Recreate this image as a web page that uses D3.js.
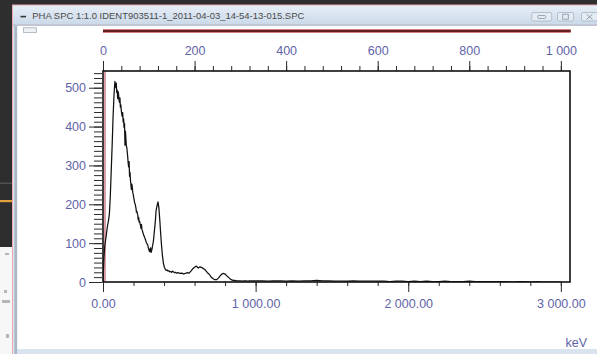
<!DOCTYPE html>
<html>
<head>
<meta charset="utf-8">
<script src="https://cdn.jsdelivr.net/npm/d3@7"></script>
<style>
  html, body { margin: 0; padding: 0; background: #2e2e2e; overflow: hidden; }
  svg { display: block; }
</style>
</head>
<body>
<svg id="chart" width="597" height="354"></svg>
<script>
// Pulse-height spectrum: energy (keV) and counts per bin
const energyKeV = [
  0, 6, 12, 18, 24, 30, 36, 42, 48, 54, 60, 66, 72,
  78, 81, 84, 87, 90, 93, 96, 99, 102, 105,
  108, 111, 114, 117, 120, 123, 126, 129, 132, 135,
  138, 141, 144, 147, 150, 153, 156, 159, 162, 165,
  168, 171, 174, 177, 180, 183, 186, 189, 192, 195,
  198, 201, 204, 207, 210, 213, 216, 219, 222, 225,
  228, 231, 234, 237, 240, 243, 246, 249, 252, 255,
  258, 261, 264, 267, 270, 273, 276, 279, 282, 285,
  288, 291, 294, 297, 300, 303, 306, 309, 312, 315,
  318, 321, 324,
  330, 336, 342, 348, 354, 360, 366, 372, 378, 384, 390, 396, 402, 408, 414, 420, 426, 432, 438, 444,
  450, 456, 462, 468, 474, 480,
  492, 504, 516, 528, 540, 552, 564, 576, 588, 600, 612, 624, 636, 648, 660, 672, 684, 696, 708,
  720, 732, 744, 756, 768, 780, 792, 804, 816, 828, 840, 852, 864, 876, 888, 900, 912, 924, 936, 948,
  960, 1000, 1040, 1080, 1120, 1160, 1200, 1240, 1280, 1320, 1360, 1400, 1440, 1480, 1520, 1560, 1600, 1640, 1680, 1720,
  1760, 1800, 1840, 1880, 1920, 1960, 2000, 2040, 2080, 2120, 2160, 2200, 2240, 2280, 2320, 2360, 2400, 2440, 2480, 2520,
  2560, 2600, 2640, 2680, 2720, 2760, 2800, 2840, 2880, 2920, 2960, 3000
];
const counts = [
  0, 62, 94, 110, 128, 146, 158, 176, 222, 288, 352, 425, 480,
  516, 508, 500, 512, 488, 494, 472, 490, 484, 468,
  462, 474, 450, 456, 441, 432, 426, 436, 412, 420,
  398, 408, 352, 388, 370, 350, 346, 334, 322, 306,
  296, 310, 272, 282, 262, 250, 238, 252, 244, 230,
  226, 218, 212, 204, 202, 196, 190, 180, 182, 176,
  172, 160, 166, 154, 156, 150, 145, 138, 148, 136,
  132, 128, 124, 120, 118, 114, 112, 108, 104, 100,
  99, 97, 94, 88, 84, 80, 78, 86, 88, 76,
  80, 84, 92,
  104, 128, 152, 184, 196, 206, 192, 160, 124, 92, 66, 48, 38, 33, 30, 31, 28, 29, 26, 27,
  25, 28, 26, 24, 25, 23,
  24, 22, 23, 21, 22, 24, 23, 28, 34, 38, 41, 36, 39, 37, 34, 30, 24, 20, 13,
  9, 6, 6, 10, 16, 21, 22, 19, 14, 10, 6, 4, 4, 3, 3, 3, 2, 3, 3, 2,
  3, 3, 3, 2, 3, 3, 2, 3, 2, 3, 3, 4, 3, 3, 2, 2, 2, 3, 2, 2,
  2, 2, 2, 1, 2, 2, 1, 2, 1, 2, 1, 1, 2, 1, 1, 1, 2, 1, 1, 1,
  1, 1, 1, 0, 1, 1, 0, 1, 0, 0, 0, 0
];

const keVTicks = [0, 1000, 2000, 3000];
const channelTicks = [0, 200, 400, 600, 800, 1000];
const countTicks = [0, 100, 200, 300, 400, 500];
const titleText = "PHA SPC 1:1.0  IDENT903511-1_2011-04-03_14-54-13-015.SPC";
const unitLabel = "keV";

const svg = d3.select("#chart");
const W = 597, H = 354;

// ---- desktop and window chrome ----
svg.append("rect").attr("x", 0).attr("y", 0).attr("width", W).attr("height", H).attr("fill", "#2e2e2e");
svg.append("rect").attr("x", 0).attr("y", 182.5).attr("width", 12).attr("height", 1.5).attr("fill", "#505050");
svg.append("rect").attr("x", 0).attr("y", 200).attr("width", 12).attr("height", 2.2).attr("fill", "#e3a03c");
svg.append("rect").attr("x", 0).attr("y", 247).attr("width", 12).attr("height", H - 247).attr("fill", "#f7f7f7");
[[5, 253, 4, 2], [4, 290, 3, 3], [2, 300, 8, 3], [6, 334, 3, 4]].forEach(([bx, by, bw, bh]) =>
  svg.append("rect").attr("x", bx).attr("y", by).attr("width", bw).attr("height", bh).attr("fill", "#9a9a9a").attr("opacity", 0.7));

// window frame
svg.append("rect").attr("x", 12).attr("y", 4.5).attr("width", W).attr("height", H).attr("fill", "#e8a8ae");
const grad = svg.append("defs").append("linearGradient").attr("id", "tb").attr("x1", 0).attr("y1", 0).attr("x2", 0).attr("y2", 1);
grad.append("stop").attr("offset", "0%").attr("stop-color", "#e6eef8");
grad.append("stop").attr("offset", "100%").attr("stop-color", "#cbd9e8");
svg.append("rect").attr("x", 13).attr("y", 5.5).attr("width", W).attr("height", 19).attr("fill", "url(#tb)");
svg.append("rect").attr("x", 13).attr("y", 24.5).attr("width", W).attr("height", 1.5).attr("fill", "#b9c8d8");
svg.append("rect").attr("x", 13).attr("y", 26).attr("width", W).attr("height", H).attr("fill", "#dfe8f1");
svg.append("rect").attr("x", 14.3).attr("y", 26).attr("width", 3).attr("height", H).attr("fill", "#a9b7c6");
svg.append("rect").attr("x", 17.3).attr("y", 26).attr("width", W).attr("height", 323).attr("fill", "#ffffff");
svg.append("rect").attr("x", 17.3).attr("y", 349).attr("width", W).attr("height", 5).attr("fill", "#d9e4ef");

// title bar contents
svg.append("rect").attr("x", 20.5).attr("y", 15.8).attr("width", 5.5).attr("height", 1.6).attr("fill", "#333");
svg.append("text").attr("x", 32.3).attr("y", 19.2)
  .attr("font-family", "Liberation Sans, Arial, sans-serif").attr("font-size", 9.6)
  .attr("fill", "#4a4a4a").attr("textLength", 272).attr("lengthAdjust", "spacingAndGlyphs")
  .text(titleText);

const btns = [[531.7, 20], [557.5, 16], [581.5, 16]];
btns.forEach(([bx, bw], i) => {
  svg.append("rect").attr("x", bx).attr("y", 12.5).attr("width", bw).attr("height", 8.5).attr("rx", 1.5)
    .attr("fill", "#e4ebf3").attr("stroke", "#a9b5c3").attr("stroke-width", 0.8);
  const cx = bx + bw / 2;
  if (i === 0) {
    svg.append("rect").attr("x", cx - 4).attr("y", 15.5).attr("width", 8).attr("height", 3).attr("rx", 1)
      .attr("fill", "none").attr("stroke", "#8795a5").attr("stroke-width", 0.8);
  } else if (i === 1) {
    svg.append("rect").attr("x", cx - 2.8).attr("y", 14.2).attr("width", 5.6).attr("height", 5).attr("fill", "none")
      .attr("stroke", "#8795a5").attr("stroke-width", 0.8);
  } else {
    svg.append("path").attr("d", `M${cx - 3},14.2L${cx + 3},19.4M${cx + 3},14.2L${cx - 3},19.4`)
      .attr("stroke", "#8795a5").attr("stroke-width", 0.9);
  }
});

// toolbar icon
svg.append("rect").attr("x", 23.5).attr("y", 27.8).attr("width", 13).attr("height", 4.6)
  .attr("fill", "#eef1f4").attr("stroke", "#a5adb6").attr("stroke-width", 0.8);

// ---- chart area ----
const plotLeft = 103, plotRight = 570, plotTop = 71, plotBottom = 282;

const x = d3.scaleLinear().domain([0, 3060]).range([plotLeft, plotRight]);
const xCh = d3.scaleLinear().domain([0, 1020]).range([plotLeft, plotRight]);
const y = d3.scaleLinear().domain([0, 543]).range([plotBottom, plotTop]);

// channel-range marker bar
svg.append("rect").attr("x", xCh(0)).attr("y", 29.3).attr("width", xCh(1020) - xCh(0) + 0.7).attr("height", 3.4).attr("fill", "#bf4a4a");
svg.append("rect").attr("x", xCh(0)).attr("y", 30.3).attr("width", xCh(1020) - xCh(0) + 0.7).attr("height", 1.4).attr("fill", "#3d0d0d");

const loc = d3.formatLocale({ decimal: ".", thousands: " ", grouping: [3], currency: ["", ""] });
const fmtCh = loc.format(",d");
const fmtKeV = loc.format(",.2f");

const labelColor = "#6163a8";
const fontFam = "Liberation Sans, Arial, sans-serif";

function styleAxis(g) {
  g.select(".domain").remove();
  g.selectAll(".tick line").attr("stroke", "#2a2a2a").attr("stroke-width", 1);
  g.selectAll("text").attr("fill", labelColor).attr("font-family", fontFam).attr("font-size", 12.5);
}

// top axis: channel numbers
svg.append("g").attr("transform", `translate(0,${plotTop})`)
  .call(d3.axisTop(xCh).tickValues(d3.range(0, 1021, 40)).tickSize(5).tickFormat(""))
  .call(styleAxis);
svg.append("g").attr("transform", `translate(0,${plotTop})`)
  .call(d3.axisTop(xCh).tickValues(channelTicks).tickSize(10).tickPadding(6).tickFormat(fmtCh))
  .call(styleAxis);

// left axis: counts
svg.append("g").attr("transform", `translate(${plotLeft - 1},0)`)
  .call(d3.axisLeft(y).tickValues(d3.range(0, 543, 12.5)).tickSize(8).tickFormat(""))
  .call(styleAxis);
svg.append("g").attr("transform", `translate(${plotLeft - 1},0)`)
  .call(d3.axisLeft(y).tickValues(countTicks).tickSize(13).tickPadding(3).tickFormat(d3.format("d")))
  .call(styleAxis);

// bottom axis: energy
svg.append("g").attr("transform", `translate(0,${plotBottom})`)
  .call(d3.axisBottom(x).tickValues(d3.range(0, 3060, 200)).tickSize(4).tickFormat(""))
  .call(styleAxis);
svg.append("g").attr("transform", `translate(0,${plotBottom})`)
  .call(d3.axisBottom(x).tickValues(keVTicks).tickSize(10).tickPadding(7).tickFormat(fmtKeV))
  .call(styleAxis);

svg.append("text").attr("x", 587).attr("y", 347).attr("text-anchor", "end")
  .attr("fill", labelColor).attr("font-family", fontFam).attr("font-size", 12.5).text(unitLabel);

// ROI marker at channel zero
svg.append("rect").attr("x", x(0) + 0.8).attr("y", plotTop).attr("width", 2.2).attr("height", plotBottom - plotTop)
  .attr("fill", "#de9ea8");

// spectrum trace
svg.append("defs").append("clipPath").attr("id", "plotClip")
  .append("rect").attr("x", plotLeft).attr("y", plotTop).attr("width", plotRight - plotLeft).attr("height", plotBottom - plotTop);

const line = d3.line().x((d, i) => x(energyKeV[i])).y(d => y(d));
svg.append("path").datum(counts)
  .attr("clip-path", "url(#plotClip)")
  .attr("d", line)
  .attr("fill", "none").attr("stroke", "#111").attr("stroke-width", 1.25).attr("stroke-linejoin", "round");

// plot frame
svg.append("rect").attr("x", plotLeft).attr("y", plotTop).attr("width", plotRight - plotLeft).attr("height", plotBottom - plotTop)
  .attr("fill", "none").attr("stroke", "#111").attr("stroke-width", 1.6);
</script>
</body>
</html>
